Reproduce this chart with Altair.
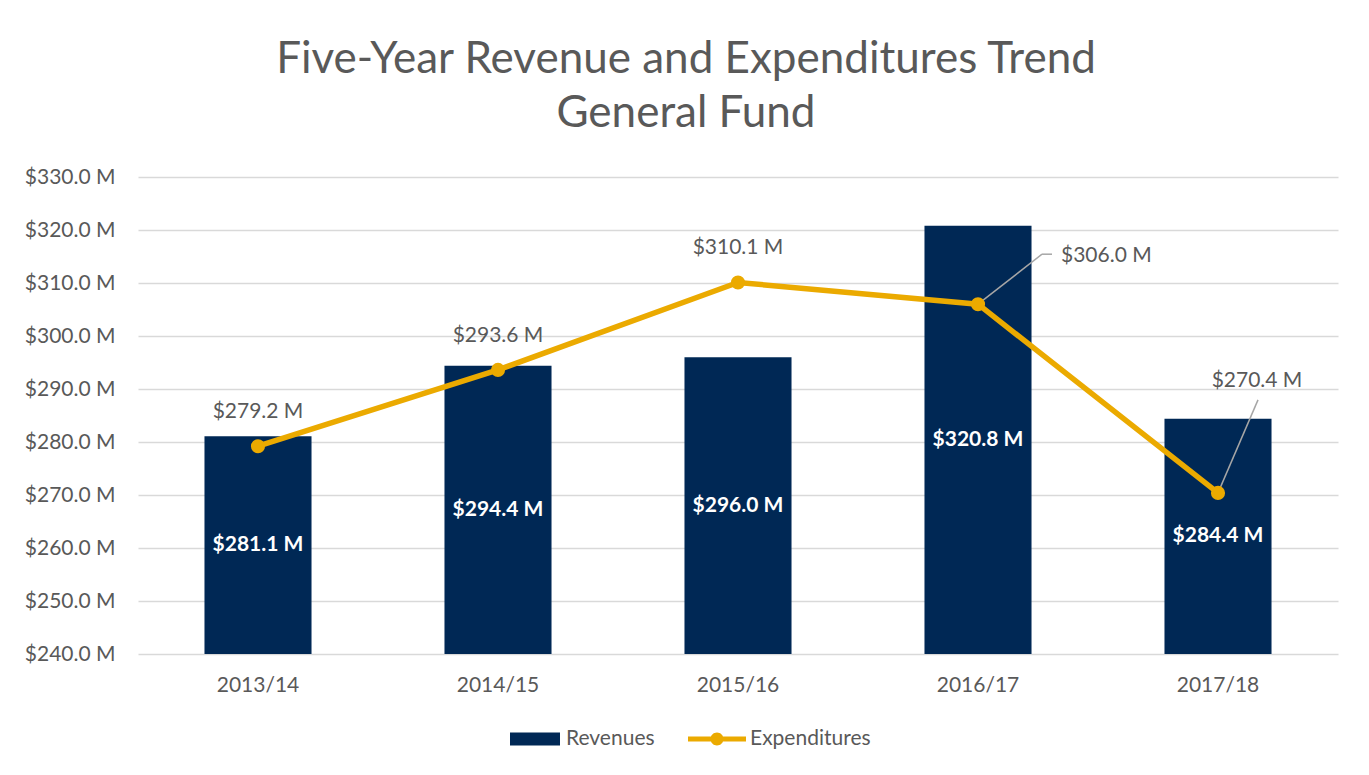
import altair as alt
import pandas as pd

years = ["2013/14", "2014/15", "2015/16", "2016/17", "2017/18"]
revenues = [281.1, 294.4, 296.0, 320.8, 284.4]
expenditures = [279.2, 293.6, 310.1, 306.0, 270.4]
y_ticks = [240, 250, 260, 270, 280, 290, 300, 310, 320, 330]

df = pd.DataFrame({"year": years, "rev": revenues, "exp": expenditures})
df["rev_series"] = "Revenues"
df["exp_series"] = "Expenditures"

TXT = "#595959"
NAVY = "#002855"
GOLD = "#EBAA00"
GRID = "#D9D9D9"
LEAD = "#A6A6A6"
FONT = "Lato"
FS = 21

base = alt.Chart(df).transform_calculate(
    rev_label="'$' + format(datum.rev, '.1f') + ' M'",
    exp_label="'$' + format(datum.exp, '.1f') + ' M'",
    rev_mid="(240 + datum.rev) / 2",
)

x = alt.X(
    "year:N", sort=years, title=None,
    scale=alt.Scale(paddingInner=0.554, paddingOuter=0.277),
    axis=alt.Axis(labelAngle=0, labelFont=FONT, labelFontSize=FS, labelColor=TXT,
                  labelPadding=20, ticks=False, domain=False, grid=False),
)
yscale = alt.Scale(domain=[240, 330], zero=False, nice=False)
y_rev = alt.Y(
    "rev:Q", scale=yscale, title=None,
    axis=alt.Axis(values=y_ticks, labelExpr="'$' + format(datum.value, '.1f') + ' M'",
                  labelFont=FONT, labelFontSize=FS, labelColor=TXT, labelPadding=23,
                  ticks=False, domain=False, grid=True, gridColor=GRID, gridWidth=1.5),
)

bar_sym = "M-1,-0.26 L1,-0.26 L1,0.26 L-1,0.26 Z"
line_sym = ("M-1,-0.086 L1,-0.086 L1,0.086 L-1,0.086 Z "
            "M-0.224,0 A0.224,0.224 0 1 1 0.224,0 A0.224,0.224 0 1 1 -0.224,0 Z")

bars = base.mark_bar().encode(
    x=x, y=y_rev, y2=alt.datum(240),
    fill=alt.Fill("rev_series:N", scale=alt.Scale(domain=["Revenues"], range=[NAVY]),
                  legend=alt.Legend(title=None, orient="none", legendX=372, legendY=537,
                                    symbolType=bar_sym, symbolSize=2500, symbolStrokeWidth=0,
                                    labelFont=FONT, labelFontSize=FS, labelColor=TXT,
                                    labelOffset=6)),
)

bar_labels = base.mark_text(font=FONT, fontSize=FS, fontWeight="bold", color="white",
                            baseline="middle").encode(
    x=x, y=alt.Y("rev_mid:Q", scale=yscale), text="rev_label:N")

lead1 = base.transform_filter(alt.datum.year == "2016/17").mark_rule(
    color=LEAD, strokeWidth=1.5, x2Offset=64, y2Offset=-50).encode(
    x=x, y=alt.Y("exp:Q", scale=yscale), x2="year:N", y2="exp:Q")
lead1b = base.transform_filter(alt.datum.year == "2016/17").mark_rule(
    color=LEAD, strokeWidth=1.5, xOffset=64, yOffset=-50, x2Offset=74, y2Offset=-50).encode(
    x=x, y=alt.Y("exp:Q", scale=yscale), x2="year:N", y2="exp:Q")
lead2 = base.transform_filter(alt.datum.year == "2017/18").mark_rule(
    color=LEAD, strokeWidth=1.5, x2Offset=40, y2Offset=-93).encode(
    x=x, y=alt.Y("exp:Q", scale=yscale), x2="year:N", y2="exp:Q")

line = base.mark_line(color=GOLD, strokeWidth=5.5).encode(
    x=x, y=alt.Y("exp:Q", scale=yscale))

points = base.mark_circle(size=200, opacity=1).encode(
    x=x, y=alt.Y("exp:Q", scale=yscale),
    color=alt.Color("exp_series:N", scale=alt.Scale(domain=["Expenditures"], range=[GOLD]),
                    legend=alt.Legend(title=None, orient="none", legendX=550, legendY=533,
                                      symbolType=line_sym, symbolSize=3364, symbolStrokeWidth=0,
                                      labelFont=FONT, labelFontSize=FS, labelColor=TXT,
                                      labelOffset=4)),
)

exp_labels = base.transform_filter(
    (alt.datum.year != "2016/17") & (alt.datum.year != "2017/18")
).mark_text(font=FONT, fontSize=FS, color=TXT, baseline="middle", dy=-34).encode(
    x=x, y=alt.Y("exp:Q", scale=yscale), text="exp_label:N")

exp_label1 = base.transform_filter(alt.datum.year == "2016/17").mark_text(
    font=FONT, fontSize=FS, color=TXT, baseline="middle", align="left", dx=83, dy=-48).encode(
    x=x, y=alt.Y("exp:Q", scale=yscale), text="exp_label:N")
exp_label2 = base.transform_filter(alt.datum.year == "2017/18").mark_text(
    font=FONT, fontSize=FS, color=TXT, baseline="middle", dx=39, dy=-112).encode(
    x=x, y=alt.Y("exp:Q", scale=yscale), text="exp_label:N")

chart = alt.layer(
    bars, bar_labels, lead1, lead1b, lead2, line, points, exp_labels, exp_label1, exp_label2
).resolve_scale(y="shared").properties(
    width=1200, height=477,
    autosize=alt.AutoSizeParams(type="none"),
    padding={"left": 130, "top": 169, "right": 20, "bottom": 122},
    title=alt.TitleParams(
        ["Five-Year Revenue and Expenditures Trend", "General Fund"],
        font=FONT, fontSize=44, fontWeight="normal", color=TXT,
        anchor="middle", lineHeight=54, offset=30, dx=-52),
).configure(background="white").configure_view(stroke=None)

chart.save("out.html", embed_options={"renderer": "svg", "actions": False})
